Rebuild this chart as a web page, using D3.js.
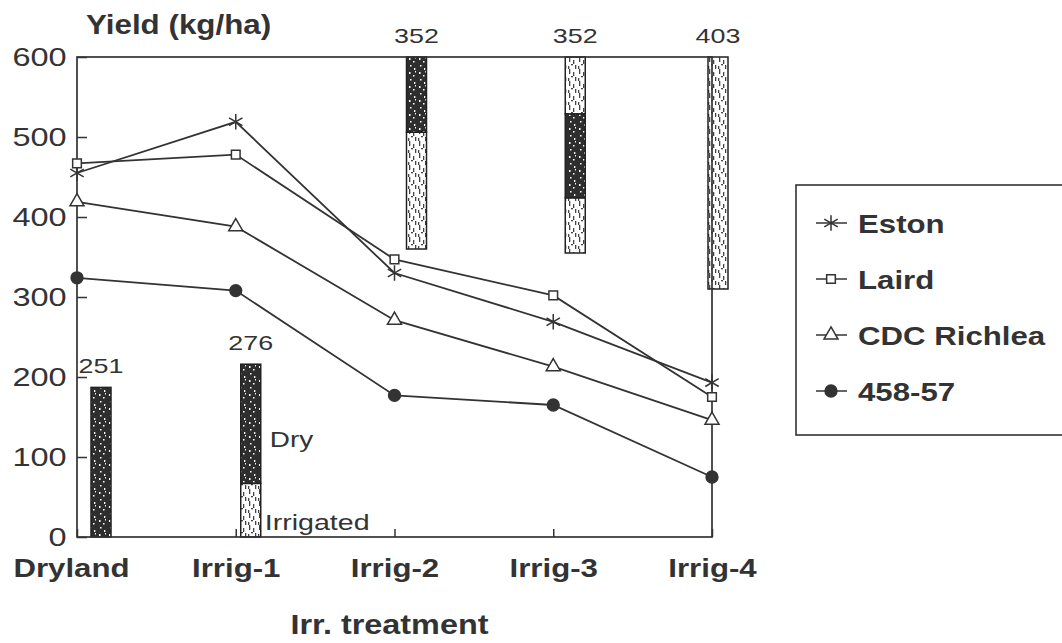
<!DOCTYPE html>
<html>
<head>
<meta charset="utf-8">
<script src="https://cdn.jsdelivr.net/npm/d3@7"></script>
<style>
  body { margin: 0; background: #fff; }
  text { font-family: "Liberation Sans", Arial, sans-serif; fill: #333; }
</style>
</head>
<body>
<div id="chart"></div>
<script>
// data
var treatments = ["Dryland", "Irrig-1", "Irrig-2", "Irrig-3", "Irrig-4"];
var seriesNames = ["Eston", "Laird", "CDC Richlea", "458-57"];
var estonYield = [455, 519, 330, 269, 193];
var lairdYield = [467, 478, 347, 302, 175];
var richleaYield = [419, 388, 271, 213, 146];
var l45857Yield = [324, 308, 177, 165, 75];
var yTicks = [0, 100, 200, 300, 400, 500, 600];
// water use (mm) printed above each bar
var barTotals = [251, 276, 352, 352, 403];
// bar pieces, drawn on the yield axis as in the original figure
var barSegments = [
  {t: "Dryland", lo: 0, hi: 187, kind: "dry"},
  {t: "Irrig-1", lo: 0, hi: 67, kind: "irr"},
  {t: "Irrig-1", lo: 67, hi: 216, kind: "dry"},
  {t: "Irrig-2", lo: 360, hi: 506, kind: "irr"},
  {t: "Irrig-2", lo: 506, hi: 600, kind: "dry"},
  {t: "Irrig-3", lo: 355, hi: 424, kind: "irr"},
  {t: "Irrig-3", lo: 424, hi: 529, kind: "dry"},
  {t: "Irrig-3", lo: 529, hi: 600, kind: "irr"},
  {t: "Irrig-4", lo: 310, hi: 600, kind: "irr"}
];

var allSeries = [estonYield, lairdYield, richleaYield, l45857Yield];

var margin = {top: 57, right: 350, bottom: 106, left: 77},
    width = 1062 - margin.left - margin.right,
    height = 643 - margin.top - margin.bottom;

var ink = "#333";

var svg = d3.select("#chart")
  .append("svg")
    .attr("width", 1062)
    .attr("height", 643);

// fill patterns for the bars
var defs = svg.append("defs");
var pDry = defs.append("pattern")
    .attr("id", "dryPat")
    .attr("patternUnits", "userSpaceOnUse")
    .attr("width", 10).attr("height", 14);
pDry.append("rect").attr("width", 10).attr("height", 14).attr("fill", "#2e2e2e");
[[2,1,1.5,2],[6,4,1.5,1.5],[3,8,1.5,1.5],[7,11,1.3,2],[8,0,1,1.5]].forEach(function(s) {
  pDry.append("rect").attr("x", s[0]).attr("y", s[1]).attr("width", s[2]).attr("height", s[3]).attr("fill", "#fff");
});
var pIrr = defs.append("pattern")
    .attr("id", "irrPat")
    .attr("patternUnits", "userSpaceOnUse")
    .attr("width", 10).attr("height", 12);
pIrr.append("rect").attr("width", 10).attr("height", 12).attr("fill", "#fff");
[[2,0,1.3,5],[6,3,1.3,4],[4,7,2,1.3],[8,8,1.3,4],[1,9,1.3,3]].forEach(function(s) {
  pIrr.append("rect").attr("x", s[0]).attr("y", s[1]).attr("width", s[2]).attr("height", s[3]).attr("fill", "#444");
});

var g = svg.append("g")
    .attr("transform", "translate(" + margin.left + "," + margin.top + ")");

// scales
var x = d3.scalePoint().domain(treatments).range([0, width]);
var y = d3.scaleLinear().domain([0, 600]).range([height, 0]);

// bars sit a little right of their treatment point
var barShift = {"Dryland": 24, "Irrig-1": 15, "Irrig-2": 22, "Irrig-3": 22, "Irrig-4": 6};
var barW = 20;

g.selectAll(".seg")
  .data(barSegments)
  .enter()
  .append("rect")
    .attr("class", "seg")
    .attr("x", function(d) { return x(d.t) + barShift[d.t] - barW / 2; })
    .attr("y", function(d) { return y(d.hi); })
    .attr("width", barW)
    .attr("height", function(d) { return y(d.lo) - y(d.hi); })
    .attr("fill", function(d) { return d.kind == "dry" ? "url(#dryPat)" : "url(#irrPat)"; })
    .attr("stroke", "#222")
    .attr("stroke-width", 1.5);

// labels on top of each bar
var barTops = treatments.map(function(t) {
  return d3.max(barSegments.filter(function(s) { return s.t == t; }), function(s) { return s.hi; });
});
g.selectAll(".barlab")
  .data(treatments)
  .enter()
  .append("text")
    .attr("class", "barlab")
    .attr("transform", function(d, i) {
      return "translate(" + (x(d) + barShift[d]) + "," + (y(barTops[i]) - 14) + ") scale(1.28,1)";
    })
    .attr("text-anchor", "middle")
    .style("font-size", "21px")
    .text(function(d, i) { return barTotals[i]; });

// Dry / Irrigated notes beside the Irrig-1 bar
g.append("text")
    .attr("transform", "translate(" + (x("Irrig-1") + 34) + "," + (y(112)) + ") scale(1.27,1)")
    .style("font-size", "22px")
    .text("Dry");
g.append("text")
    .attr("transform", "translate(" + (x("Irrig-1") + 29) + "," + (y(9)) + ") scale(1.3,1)")
    .style("font-size", "22px")
    .text("Irrigated");

// frame
g.append("rect")
    .attr("width", width)
    .attr("height", height)
    .attr("fill", "none")
    .attr("stroke", ink)
    .attr("stroke-width", 1.7);

// y axis
var yAxis = g.append("g")
    .call(d3.axisLeft(y).tickValues(yTicks).tickSizeInner(-10).tickSizeOuter(0).tickPadding(8));
yAxis.select(".domain").remove();
yAxis.selectAll("line").attr("stroke", ink).attr("stroke-width", 1.5);
yAxis.selectAll("text")
    .attr("transform", "scale(1.3,1)")
    .style("font-size", "25px")
    .style("font-family", "'Liberation Sans', Arial, sans-serif")
    .attr("fill", ink);

// x axis
var xAxis = g.append("g")
    .attr("transform", "translate(0," + height + ")")
    .call(d3.axisBottom(x).tickSizeInner(-8).tickSizeOuter(0).tickPadding(22));
xAxis.select(".domain").remove();
xAxis.selectAll("line").attr("stroke", ink).attr("stroke-width", 1.5);
xAxis.selectAll("text")
    .attr("transform", "scale(1.2,1)")
    .style("font-size", "26px")
    .style("font-weight", "bold")
    .style("font-family", "'Liberation Sans', Arial, sans-serif")
    .attr("fill", ink);
xAxis.selectAll(".tick").filter(function(d) { return d == "Dryland"; })
    .select("text").attr("x", -5);

// lines
var line = d3.line()
    .x(function(d, i) { return x(treatments[i]); })
    .y(function(d) { return y(d); });

g.selectAll(".series")
  .data(allSeries)
  .enter()
  .append("path")
    .attr("class", "series")
    .attr("d", line)
    .attr("fill", "none")
    .attr("stroke", ink)
    .attr("stroke-width", 1.8);

// markers
var symbols = [
  {type: d3.symbolAsterisk, size: 170, fill: "none"},
  {type: d3.symbolSquare, size: 75, fill: "#fff"},
  {type: d3.symbolTriangle, size: 85, fill: "#fff"},
  {type: d3.symbolCircle, size: 110, fill: ink}
];

allSeries.forEach(function(vals, si) {
  g.selectAll(".mk" + si)
    .data(vals)
    .enter()
    .append("path")
      .attr("class", "mk" + si)
      .attr("transform", function(d, i) { return "translate(" + x(treatments[i]) + "," + y(d) + ")"; })
      .attr("d", d3.symbol().type(symbols[si].type).size(symbols[si].size))
      .attr("fill", symbols[si].fill)
      .attr("stroke", ink)
      .attr("stroke-width", 1.5);
});

// axis titles
svg.append("text")
    .attr("transform", "translate(86,34) scale(1.12,1)")
    .style("font-size", "28px")
    .style("font-weight", "bold")
    .text("Yield (kg/ha)");

svg.append("text")
    .attr("transform", "translate(" + (margin.left + width / 2 - 5) + ",634) scale(1.2,1)")
    .attr("text-anchor", "middle")
    .style("font-size", "27px")
    .style("font-weight", "bold")
    .text("Irr. treatment");

// legend
var legend = svg.append("g").attr("transform", "translate(796,185)");
legend.append("rect")
    .attr("width", 300)
    .attr("height", 250)
    .attr("fill", "#fff")
    .attr("stroke", ink)
    .attr("stroke-width", 1.6);

var items = legend.selectAll(".item")
  .data(seriesNames)
  .enter()
  .append("g")
    .attr("class", "item")
    .attr("transform", function(d, i) { return "translate(0," + (38 + i * 56) + ")"; });

items.append("line")
    .attr("x1", 20).attr("x2", 51)
    .attr("stroke", ink)
    .attr("stroke-width", 1.5);

items.append("path")
    .attr("transform", "translate(35,0)")
    .attr("d", function(d, i) { return d3.symbol().type(symbols[i].type).size(symbols[i].size)(); })
    .attr("fill", function(d, i) { return symbols[i].fill; })
    .attr("stroke", ink)
    .attr("stroke-width", 1.5);

items.append("text")
    .attr("transform", "translate(62,10) scale(1.2,1)")
    .style("font-size", "26px")
    .style("font-weight", "bold")
    .text(function(d) { return d; });
</script>
</body>
</html>
